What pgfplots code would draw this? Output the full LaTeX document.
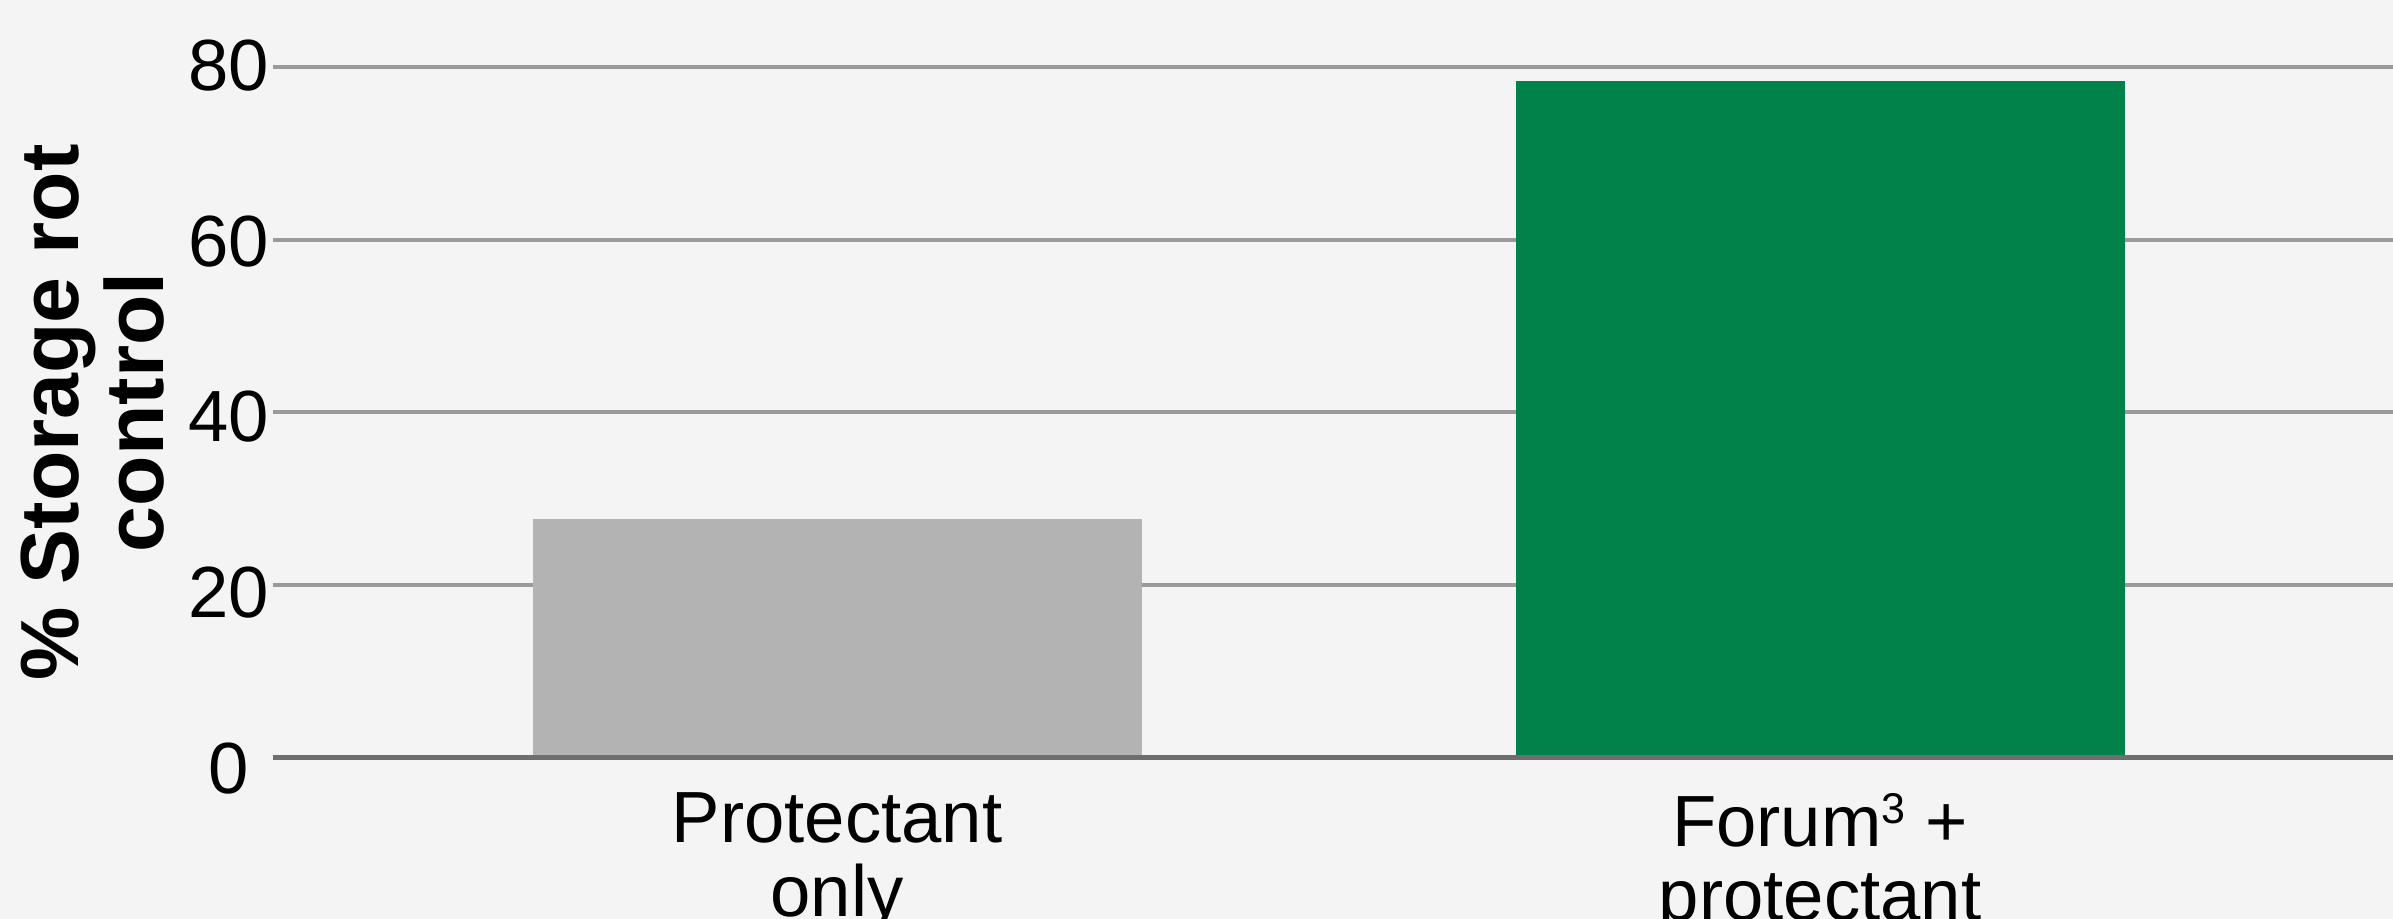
\documentclass[border=0pt]{standalone}
\usepackage{fontspec}
\setmainfont{Liberation Sans}
\usepackage{pgfplots}
\pgfplotsset{compat=1.18}
\definecolor{bgcol}{HTML}{F4F4F4}
\definecolor{gridcol}{HTML}{9A9A9A}
\definecolor{axiscol}{HTML}{6E6E6E}
\definecolor{barg}{HTML}{B3B3B3}
\definecolor{bargreen}{HTML}{00824A}
\newcommand{\yl}[2]{\raisebox{#1}[10.4pt][0pt]{#2}}
\begin{document}
\begin{tikzpicture}
\fill[bgcol] (0,0) rectangle (478.6pt,183.8pt);
\begin{axis}[
  at={(54.6pt,32.2pt)}, anchor=south west,
  scale only axis, width=424pt, height=138.26pt,
  xmin=-0.5738, xmax=1.5829, ymin=0, ymax=80,
  clip=false,
  axis line style={draw=none},
  xtick={0,1},
  xticklabels={{Protectant\\only},{Forum\raisebox{4.6pt}{\fontsize{8.6}{8.6}\selectfont 3} +\\protectant}},
  xticklabel style={align=center, anchor=north, inner sep=0pt, yshift=-6.8pt, font=\fontsize{14.5}{14.8}\selectfont},
  ytick={0,20,40,60,80},
  yticklabels={\yl{-1.84pt}{0},\yl{-1.28pt}{20},\yl{-0.72pt}{40},\yl{-0.16pt}{60},\yl{0.4pt}{80}},
  yticklabel style={anchor=center, inner sep=0pt, xshift=-8.8pt, font=\fontsize{14.5}{14.8}\selectfont},
  major tick length=0pt,
  ymajorgrids, grid style={gridcol, line width=0.8pt},
  every axis y label/.style={at={([xshift=-21.6pt]axis description cs:0,0.5)}, rotate=90, anchor=south, inner sep=0pt, align=center, font=\bfseries\fontsize{16.5}{17}\selectfont},
  ylabel={\% Storage rot\\control},
]
\addplot[ybar, bar shift=0pt, bar width=121.8pt, fill=barg, draw=none] coordinates {(0,27.7)};
\addplot[ybar, bar shift=0pt, bar width=121.8pt, fill=bargreen, draw=none] coordinates {(1,78.3)};
\draw[axiscol, line width=1pt] (rel axis cs:0,0) -- (rel axis cs:1,0);
\end{axis}
\pgfresetboundingbox
\path[use as bounding box] (0,0) rectangle (478.6pt,183.8pt);
\end{tikzpicture}
\end{document}
